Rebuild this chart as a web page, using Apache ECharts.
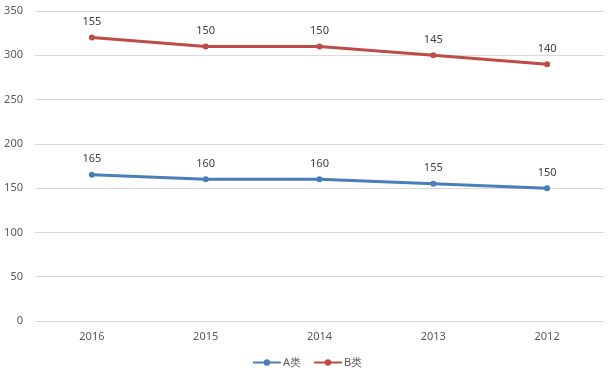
<!DOCTYPE html>
<html>
<head>
<meta charset="utf-8">
<script src="https://cdn.jsdelivr.net/npm/echarts@6/dist/echarts.min.js"></script>
<style>
html, body { margin: 0; padding: 0; background: #fff; }
#chart { width: 614px; height: 377px; }
</style>
</head>
<body>
<div id="chart"></div>
<script>
// 年份
var years = ['2016', '2015', '2014', '2013', '2012'];
// A类、B类 (B类堆叠在A类上)
var seriesA = [165, 160, 160, 155, 150];
var seriesB = [155, 150, 150, 145, 140];

function init() {
    var chart = echarts.init(document.getElementById('chart'));
    var labelStyle = {
        show: true,
        position: 'top',
        distance: 7,
        color: '#404040',
        fontSize: 11,
        fontFamily: 'Noto Sans'
    };
    var option = {
        animation: false,
        grid: { left: 35, right: 10, top: 11, bottom: 56 },
        legend: {
            bottom: 4,
            left: 'center',
            itemWidth: 28,
            itemHeight: 8,
            itemGap: 12,
            textStyle: { color: '#595959', fontSize: 11, fontFamily: 'Noto Sans', padding: [0, 0, 0, -3] },
            data: ['A类', 'B类']
        },
        xAxis: {
            type: 'category',
            data: years,
            axisLine: { show: true, lineStyle: { color: '#d9d9d9' } },
            axisTick: { show: false },
            axisLabel: { color: '#595959', fontSize: 11, margin: 10, fontFamily: 'Noto Sans' },
        },
        yAxis: {
            type: 'value',
            min: 0,
            max: 350,
            interval: 50,
            axisLine: { show: false },
            axisTick: { show: false },
            axisLabel: { color: '#595959', fontSize: 11, margin: 12, fontFamily: 'Noto Sans' },
            splitLine: { lineStyle: { color: '#d9d9d9' } }
        },
        series: [
            {
                name: 'A类',
                type: 'line',
                stack: 'total',
                data: seriesA,
                symbol: 'circle',
                symbolSize: 6,
                itemStyle: { color: '#4a7ebb' },
                lineStyle: { width: 3, color: '#4a7ebb' },
                label: labelStyle
            },
            {
                name: 'B类',
                type: 'line',
                stack: 'total',
                data: seriesB,
                symbol: 'circle',
                symbolSize: 6,
                itemStyle: { color: '#be4b48' },
                lineStyle: { width: 3, color: '#be4b48' },
                label: labelStyle
            }
        ]
    };
    chart.setOption(option);
}

init();
</script>
</body>
</html>
